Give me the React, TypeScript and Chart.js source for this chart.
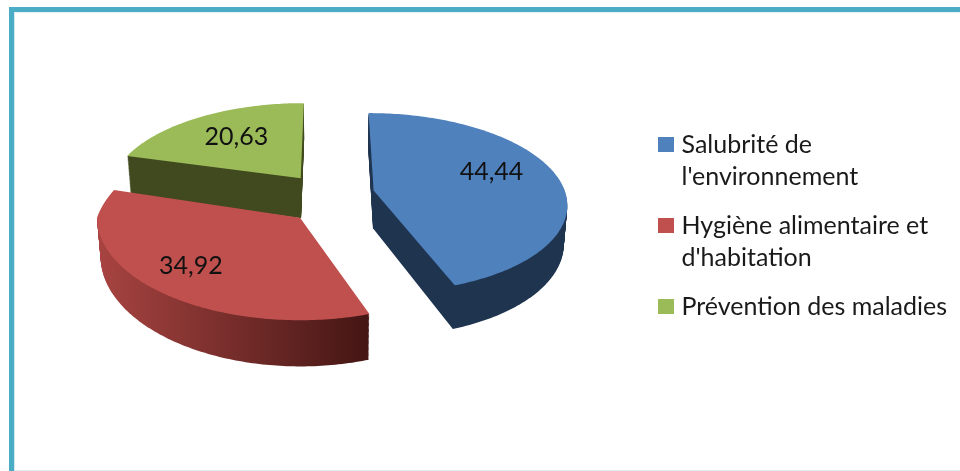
import React, { useEffect, useRef } from "react";
import { Chart, registerables } from "chart.js";

Chart.register(...registerables);

const CATEGORIES: string[][] = [
  ["Salubrité de", "l'environnement"],
  ["Hygiène alimentaire et", "d'habitation"],
  ["Prévention des maladies"],
];
const VALUES = [44.44, 34.92, 20.63];
const TOP_COLORS = ["#4f81bd", "#c0504d", "#9bbb59"];
const SIDE_COLORS = [
  ["#1f344f", "#1f344f"],
  ["#a84441", "#441614"],
  ["#41491f", "#41491f"],
];
const OFFSETS = [43, 46, 43];
const LABEL_NUDGE = [
  [-5, -9],
  [-22, 1],
  [4, 1],
];
const DRAW_ORDER = [2, 0, 1];
const SLICE_VIEW = [
  { dx: 2.5, dy: -3, k: 0.463, p: 0.14, r: 0.975, q: 0, d: 38 },
  { dx: 2.3, dy: 3.7, k: 0.505, p: 0, r: 1.03, q: 0.17, d: 38 },
  { dx: -3, dy: -3, k: 0.468, p: 0.148, r: 0.98, q: 0, d: 41 },
];

const FONT = "Lato";
const CX = 329;
const CY = 197;
const R = 197;
const PERSP = 0.148;
const DEPTH = 38;

type View = { dx: number; dy: number; k: number; p: number; r: number; q: number; d: number };

function project(v: View, x: number, y: number, h = 0) {
  const s = 1 / (1 - (v.p * y) / R);
  const sd = 1 / (1 - (PERSP * y) / R);
  const t = h / DEPTH;
  return {
    x: CX + v.dx + x * s * (1 - 0.015 * t),
    y: CY + v.dy + v.k * y * s + h * sd,
  };
}

function slicePoints(arc: any, v: View, h: number) {
  const mid = (arc.startAngle + arc.endAngle) / 2;
  const off = arc.options.offset;
  const ox = Math.cos(mid) * off;
  const oy = Math.sin(mid) * off;
  const pts = [project(v, ox, oy, h)];
  const n = Math.ceil(((arc.endAngle - arc.startAngle) * 180) / Math.PI);
  for (let i = 0; i <= n; i++) {
    const a = arc.startAngle + ((arc.endAngle - arc.startAngle) * i) / n;
    const rad = R * v.r;
    const sy = Math.sin(a);
    const wx = Math.cos(a) * rad - v.q * rad * Math.min(0, sy);
    pts.push(project(v, ox + wx, oy + sy * rad, h));
  }
  return pts;
}

function fillPts(ctx: CanvasRenderingContext2D, pts: { x: number; y: number }[], fill: any) {
  ctx.beginPath();
  pts.forEach((p, i) => (i ? ctx.lineTo(p.x, p.y) : ctx.moveTo(p.x, p.y)));
  ctx.closePath();
  ctx.fillStyle = fill;
  ctx.fill();
}

const pie3d = {
  id: "pie3d",
  beforeDatasetDraw(chart: any) {
    const { ctx } = chart;
    const arcs = chart.getDatasetMeta(0).data;
    ctx.save();
    DRAW_ORDER.forEach((i) => {
      const arc = arcs[i];
      const v = SLICE_VIEW[i];
      const top = slicePoints(arc, v, 0);
      const xs = top.map((p) => p.x);
      const grad = ctx.createLinearGradient(Math.min(...xs), 0, Math.max(...xs), 0);
      grad.addColorStop(0, SIDE_COLORS[i][0]);
      grad.addColorStop(1, SIDE_COLORS[i][1]);
      for (let h = v.d; h > 0; h -= 1) fillPts(ctx, slicePoints(arc, v, h), grad);
      fillPts(ctx, top, TOP_COLORS[i]);
    });
    ctx.font = `25px ${FONT}`;
    ctx.textAlign = "center";
    ctx.textBaseline = "middle";
    ctx.fillStyle = "#111111";
    arcs.forEach((arc: any, i: number) => {
      const mid = (arc.startAngle + arc.endAngle) / 2;
      const v = SLICE_VIEW[i];
      const r = arc.options.offset + R * 0.65;
      const p = project(v, Math.cos(mid) * r, Math.sin(mid) * r);
      ctx.fillText(VALUES[i].toFixed(2).replace(".", ","), p.x + LABEL_NUDGE[i][0], p.y + LABEL_NUDGE[i][1]);
    });
    ctx.restore();
    return false;
  },
};

const legendPlace = {
  id: "legendPlace",
  afterLayout(chart: any) {
    const l = chart.legend;
    const w = l.width;
    const h = l.height;
    l.left = 646;
    l.right = l.left + w;
    l.top = 115;
    l.bottom = l.top + h;
  },
};

function swatch(color: string) {
  const c = document.createElement("canvas");
  c.width = 16;
  c.height = 15;
  const g = c.getContext("2d")!;
  g.fillStyle = color;
  g.fillRect(0, 0, 16, 15);
  return c;
}

export default function App() {
  const ref = useRef<HTMLCanvasElement>(null);
  useEffect(() => {
    const swatches = TOP_COLORS.map(swatch);
    const chart = new Chart(ref.current!, {
      type: "pie",
      data: {
        labels: CATEGORIES as any,
        datasets: [
          {
            data: VALUES,
            backgroundColor: TOP_COLORS,
            borderWidth: 0,
            offset: OFFSETS,
          },
        ],
      },
      options: {
        animation: false,
        responsive: false,
        layout: { padding: { bottom: 60 } },
        plugins: {
          tooltip: { enabled: false },
          legend: {
            position: "right",
            align: "start",
            labels: {
              usePointStyle: true,
              boxWidth: 6,
              boxHeight: 15,
              padding: 17,
              color: "#1a1a1a",
              font: { family: FONT, size: 25, lineHeight: 32 / 25 },
              generateLabels: () =>
                CATEGORIES.map((text, i) => ({
                  text,
                  fillStyle: TOP_COLORS[i],
                  strokeStyle: TOP_COLORS[i],
                  lineWidth: 0,
                  pointStyle: swatches[i],
                  fontColor: "#1a1a1a",
                  hidden: false,
                  index: i,
                })),
            },
          },
        },
      } as any,
      plugins: [pie3d, legendPlace],
    });
    return () => chart.destroy();
  }, []);
  return (
    <div style={{ position: "fixed", inset: 0, background: "#fff", overflow: "hidden" }}>
      <div style={{ position: "absolute", left: 14, top: 12, right: 0, bottom: 0, borderLeft: "1px solid #d3e9f0", borderBottom: "1px solid #dcedf2", borderTop: "1px solid #e6f2f6" }} />
      <div style={{ position: "absolute", left: 9, top: 7, width: 5, bottom: 0, background: "#4bacc6" }} />
      <div style={{ position: "absolute", left: 9, top: 7, right: 0, height: 5, background: "#4bacc6" }} />
      <canvas ref={ref} width={960} height={471} style={{ position: "absolute", left: 0, top: 0, display: "block" }} />
    </div>
  );
}
